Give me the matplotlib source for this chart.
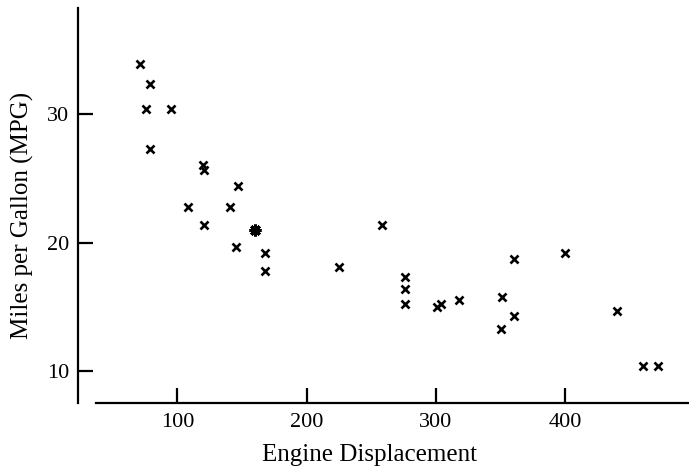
import matplotlib
matplotlib.use("Agg")
import matplotlib.pyplot as plt
from collections import Counter

displacement = [71.1, 78.7, 75.7, 95.1, 79.0, 119.5, 121.0, 108.0, 120.5,
                146.7, 140.8, 145.0, 160.0, 160.0, 167.6, 167.6, 225.0, 258.0,
                275.8, 275.8, 275.8, 301.0, 304.0, 318.0, 351.0, 350.0, 360.0,
                360.0, 400.0, 440.0, 460.0, 472.0]
mpg = [33.9, 32.4, 30.4, 30.4, 27.3, 26.1, 25.7, 22.8, 21.4,
       24.4, 22.8, 19.7, 21.0, 21.0, 19.2, 17.8, 18.1, 21.4,
       17.3, 16.4, 15.2, 15.0, 15.2, 15.5, 15.8, 13.3, 14.3,
       18.7, 19.2, 14.7, 10.4, 10.4]
x_ticks = [100, 200, 300, 400]
y_ticks = [10, 20, 30]

plt.rcParams['font.family'] = ['Liberation Serif', 'DejaVu Serif']

fig = plt.figure(figsize=(6.89, 4.68), dpi=100)
ax = fig.add_axes([77.5 / 689, 65 / 468, (689 - 77.5) / 689, 395 / 468])

counts = Counter(zip(displacement, mpg))
single_x = [x for x, y in zip(displacement, mpg) if counts[(x, y)] == 1]
single_y = [y for x, y in zip(displacement, mpg) if counts[(x, y)] == 1]
multi = [p for p, c in counts.items() if c > 1]

ax.plot(single_x, single_y, linestyle='none', marker='x', markersize=5.5,
        markeredgewidth=1.9, color='black')
if multi:
    ax.plot([p[0] for p in multi], [p[1] for p in multi], linestyle='none',
            marker=(8, 2, 0), markersize=8.5, markeredgewidth=2.2, color='black')

ax.set_xlim(22.8, 495.7)
ax.set_ylim(7.51, 38.3)

for s in ['top', 'right']:
    ax.spines[s].set_visible(False)
ax.spines['left'].set_linewidth(1.6)
ax.spines['bottom'].set_linewidth(1.6)
ax.spines['bottom'].set_bounds(36.8, 495.7)

ax.set_xticks(x_ticks)
ax.set_yticks(y_ticks)
ax.tick_params(direction='in', length=11, width=1.6, labelsize=16, pad=7)
ax.tick_params(axis='y', pad=6)

ax.set_xlabel('Engine Displacement', fontsize=18)
ax.set_ylabel('Miles per Gallon (MPG)', fontsize=18)
ax.xaxis.set_label_coords((369 - 77.5) / (689 - 77.5), -(444 - 403) / 395)
ax.yaxis.set_label_coords(-(77.5 - 34) / (689 - 77.5), (403 - 215) / 395)

fig.savefig('out.png', dpi=100)
